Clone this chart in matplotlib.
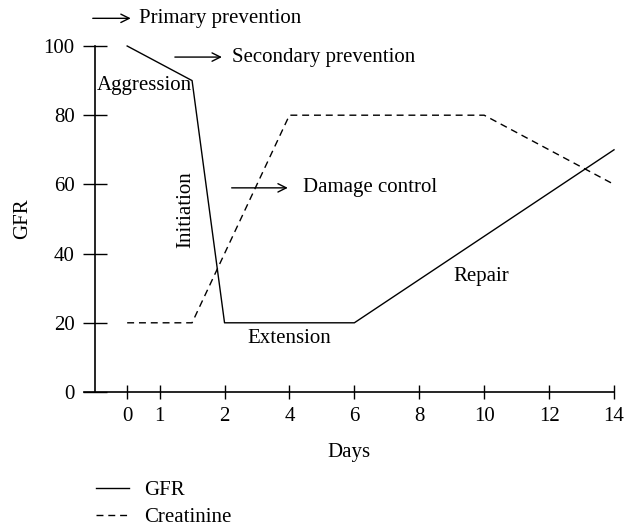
import numpy as np
import matplotlib
matplotlib.use("Agg")
import matplotlib.pyplot as plt
from matplotlib.lines import Line2D

plt.rcParams["font.family"] = ["Liberation Serif", "DejaVu Serif"]
plt.rcParams["font.size"] = 15

# data (x in days)
gfr_days = [0, 1.5, 2, 6, 14]
gfr_vals = [100, 90, 20, 20, 70]
creat_days = [0, 1.5, 4, 10, 14]
creat_vals = [20, 20, 80, 80, 60]
tick_days = [0, 1, 2, 4, 6, 8, 10, 12, 14]
y_ticks = [0, 20, 40, 60, 80, 100]

# the day axis is stretched between day 1 and day 2
_d = [-100, 1, 2, 100]
_p = [-100, 1, 3, 101]


def fwd(d):
    return np.interp(d, _d, _p)


def inv(p):
    return np.interp(p, _p, _d)


fig = plt.figure(figsize=(6.35, 5.27), dpi=100)
ax = fig.add_axes([84 / 635, 1 - 392 / 527, (614 - 84) / 635, (392 - 46) / 527])
ax.set_xscale("function", functions=(fwd, inv))

ax.plot(gfr_days, gfr_vals, color="black", lw=1.0, clip_on=False)
ax.plot(creat_days, creat_vals, color="black", lw=1.0, ls=(0, (5, 3.5)), clip_on=False)

ax.set_xlim(-1.33, 14)
ax.set_ylim(0, 100)
ax.spines["top"].set_visible(False)
ax.spines["right"].set_visible(False)
ax.spines["left"].set_position(("data", -1))
for s in ("left", "bottom"):
    ax.spines[s].set_linewidth(1.2)

ax.set_xticks(tick_days)
ax.set_xticklabels([str(d) for d in tick_days])
ax.set_yticks(y_ticks)
ax.xaxis.set_minor_locator(plt.NullLocator())
ax.tick_params(axis="x", direction="inout", length=10, width=1.0, pad=6)
ax.tick_params(axis="y", direction="inout", length=17, width=1.0, pad=6)

ax.set_xlabel("Days", labelpad=12)
ax.set_ylabel("GFR", labelpad=8)

arrow = dict(arrowstyle="->", color="black", lw=1.0, shrinkA=0, shrinkB=0,
             mutation_scale=15)
ax.annotate("", xy=(0.11, 108), xytext=(-1.06, 108), arrowprops=arrow,
            annotation_clip=False)
ax.text(0.35, 108, "Primary prevention", va="center", ha="left", clip_on=False)
ax.annotate("", xy=(1.96, 96.8), xytext=(1.235, 96.8), arrowprops=arrow)
ax.text(2.22, 96.8, "Secondary prevention", va="center", ha="left")
ax.annotate("", xy=(3.95, 59), xytext=(2.22, 59), arrowprops=arrow)
ax.text(4.42, 59, "Damage control", va="center", ha="left")

ax.text(0.54, 88.7, "Aggression", ha="center", va="center")
ax.text(1.4, 52.6, "Initiation", ha="center", va="center", rotation=90)
ax.text(3.98, 15.6, "Extension", ha="center", va="center")
ax.text(9.9, 33.5, "Repair", ha="center", va="center")

handles = [Line2D([], [], color="black", lw=1.0),
           Line2D([], [], color="black", lw=1.0, ls=(0, (5, 3.5)))]
fig.legend(handles, ["GFR", "Creatinine"], loc="upper left",
           bbox_to_anchor=(81 / 635, 1 - 466 / 527), frameon=False,
           handlelength=1.6, handletextpad=0.75, labelspacing=0.35,
           borderpad=0.2)

fig.savefig("out.png", dpi=100)
